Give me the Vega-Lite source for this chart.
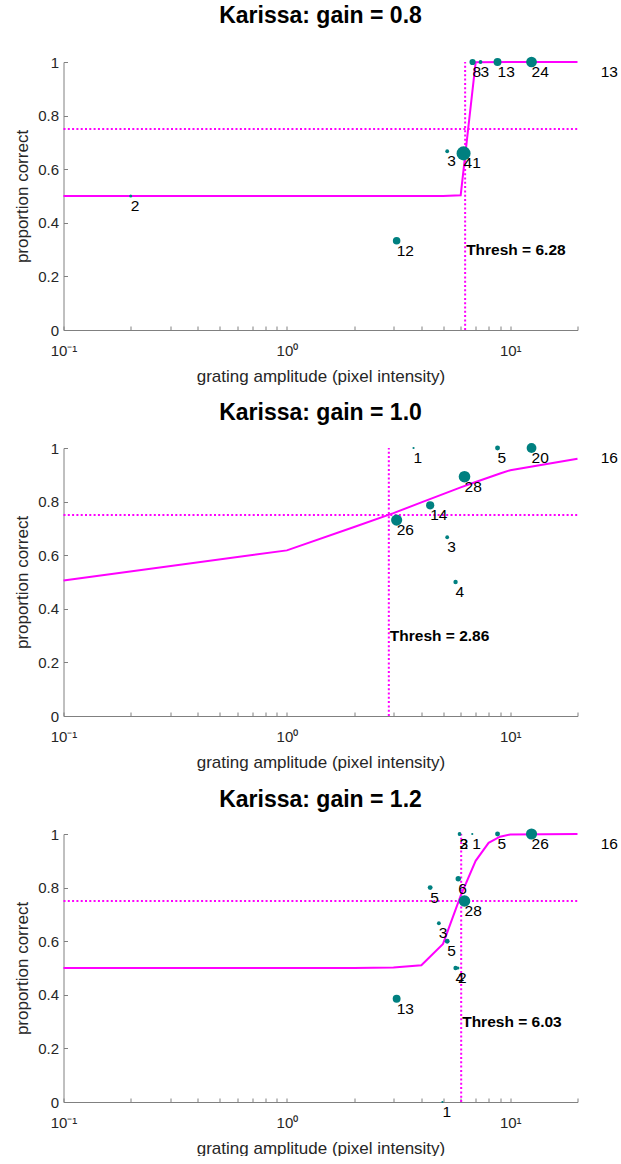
{
  "$schema": "https://vega.github.io/schema/vega-lite/v6.json",
  "autosize": {"type": "pad"},
  "padding": {"left": 13.5, "top": 5, "right": 0, "bottom": 0},
  "background": "white",
  "config": {
    "view": {"stroke": null},
    "font": "Liberation Sans",
    "axis": {
      "grid": false,
      "domainColor": "#808080",
      "tickColor": "#808080",
      "labelColor": "#262626",
      "titleColor": "#262626",
      "labelFont": "Liberation Sans",
      "titleFont": "Liberation Sans",
      "labelFontSize": 15,
      "titleFontSize": 17,
      "titleFontWeight": "normal",
      "tickSize": -4
    },
    "title": {"font": "Liberation Sans", "fontSize": 23, "fontWeight": "bold", "color": "#000000", "anchor": "middle", "baseline": "alphabetic"}
  },
  "datasets": {
    "pts": [
      {"g": "0.8", "x": 0.2, "y": 0.5, "n": 2},
      {"g": "0.8", "x": 3.1, "y": 0.333, "n": 12},
      {"g": "0.8", "x": 5.22, "y": 0.667, "n": 3},
      {"g": "0.8", "x": 6.18, "y": 0.659, "n": 41},
      {"g": "0.8", "x": 6.78, "y": 1, "n": 8},
      {"g": "0.8", "x": 7.36, "y": 1, "n": 3},
      {"g": "0.8", "x": 8.77, "y": 1, "n": 13},
      {"g": "0.8", "x": 12.45, "y": 1, "n": 24},
      {"g": "0.8", "x": 25.4, "y": 1, "n": 13},
      {"g": "1.0", "x": 3.69, "y": 1, "n": 1},
      {"g": "1.0", "x": 8.77, "y": 1, "n": 5},
      {"g": "1.0", "x": 12.45, "y": 1, "n": 20},
      {"g": "1.0", "x": 6.24, "y": 0.893, "n": 28},
      {"g": "1.0", "x": 4.38, "y": 0.786, "n": 14},
      {"g": "1.0", "x": 3.1, "y": 0.731, "n": 26},
      {"g": "1.0", "x": 5.22, "y": 0.667, "n": 3},
      {"g": "1.0", "x": 5.69, "y": 0.5, "n": 4},
      {"g": "1.0", "x": 25.4, "y": 1, "n": 16},
      {"g": "1.2", "x": 5.93, "y": 1, "n": 2},
      {"g": "1.2", "x": 5.93, "y": 1, "n": 3},
      {"g": "1.2", "x": 6.76, "y": 1, "n": 1},
      {"g": "1.2", "x": 8.77, "y": 1, "n": 5},
      {"g": "1.2", "x": 12.45, "y": 1, "n": 26},
      {"g": "1.2", "x": 25.4, "y": 1, "n": 16},
      {"g": "1.2", "x": 5.85, "y": 0.833, "n": 6},
      {"g": "1.2", "x": 4.38, "y": 0.8, "n": 5},
      {"g": "1.2", "x": 6.24, "y": 0.75, "n": 28},
      {"g": "1.2", "x": 4.79, "y": 0.667, "n": 3},
      {"g": "1.2", "x": 5.22, "y": 0.6, "n": 5},
      {"g": "1.2", "x": 5.69, "y": 0.5, "n": 4},
      {"g": "1.2", "x": 5.83, "y": 0.5, "n": 2},
      {"g": "1.2", "x": 3.1, "y": 0.385, "n": 13},
      {"g": "1.2", "x": 4.97, "y": 0, "n": 1}
    ],
    "fit": [
      {"g": "0.8", "x": 0.1, "y": 0.5},
      {"g": "0.8", "x": 1, "y": 0.5},
      {"g": "0.8", "x": 5, "y": 0.5},
      {"g": "0.8", "x": 6, "y": 0.503},
      {"g": "0.8", "x": 7, "y": 0.999},
      {"g": "0.8", "x": 10, "y": 1},
      {"g": "0.8", "x": 20, "y": 1},
      {"g": "1.0", "x": 0.1, "y": 0.506},
      {"g": "1.0", "x": 1, "y": 0.618},
      {"g": "1.0", "x": 2, "y": 0.705},
      {"g": "1.0", "x": 3, "y": 0.757},
      {"g": "1.0", "x": 4, "y": 0.797},
      {"g": "1.0", "x": 5, "y": 0.828},
      {"g": "1.0", "x": 6, "y": 0.853},
      {"g": "1.0", "x": 7, "y": 0.873},
      {"g": "1.0", "x": 8, "y": 0.89},
      {"g": "1.0", "x": 9, "y": 0.905},
      {"g": "1.0", "x": 10, "y": 0.917},
      {"g": "1.0", "x": 20, "y": 0.96},
      {"g": "1.2", "x": 0.1, "y": 0.5},
      {"g": "1.2", "x": 1, "y": 0.5},
      {"g": "1.2", "x": 2, "y": 0.5},
      {"g": "1.2", "x": 3, "y": 0.502},
      {"g": "1.2", "x": 4, "y": 0.51},
      {"g": "1.2", "x": 5, "y": 0.59},
      {"g": "1.2", "x": 6, "y": 0.77},
      {"g": "1.2", "x": 7, "y": 0.9},
      {"g": "1.2", "x": 8, "y": 0.967},
      {"g": "1.2", "x": 9, "y": 0.99},
      {"g": "1.2", "x": 10, "y": 0.998},
      {"g": "1.2", "x": 20, "y": 1}
    ],
    "ref": [
      {"g": "0.8", "t": 6.28, "h": 0.75, "x0": 0.1, "x1": 20, "y0": 0, "y1": 1, "ty": 0.3, "label": "Thresh = 6.28"},
      {"g": "1.0", "t": 2.86, "h": 0.75, "x0": 0.1, "x1": 20, "y0": 0, "y1": 1, "ty": 0.3, "label": "Thresh = 2.86"},
      {"g": "1.2", "t": 6.03, "h": 0.75, "x0": 0.1, "x1": 20, "y0": 0, "y1": 1, "ty": 0.3, "label": "Thresh = 6.03"}
    ]
  },
  "vconcat": [
    {
      "title": {"text": "Karissa: gain = 0.8", "offset": 27},
      "width": 514, "height": 268,
      "layer": [
        {"data": {"name": "ref"}, "transform": [{"filter": "datum.g == '0.8'"}],
         "mark": {"type": "rule", "color": "#ff00ff", "strokeWidth": 2, "strokeDash": [2, 2.3]},
         "encoding": {
           "x": {"field": "x0", "type": "quantitative", "scale": {"type": "log", "domain": [0.1, 20], "nice": false},
                 "axis": {"title": "grating amplitude (pixel intensity)", "values": [0.1,0.2,0.3,0.4,0.5,0.6,0.7,0.8,0.9,1,2,3,4,5,6,7,8,9,10,20], "labelExpr": "datum.value == 0.1 ? '10⁻¹' : datum.value == 1 ? '10⁰' : datum.value == 10 ? '10¹' : ''", "labelPadding": 17, "titlePadding": 10, "labelFlush": false, "labelOverlap": false}},
           "x2": {"field": "x1"},
           "y": {"field": "h", "type": "quantitative", "scale": {"domain": [0, 1], "nice": false},
                 "axis": {"title": "proportion correct", "values": [0,0.2,0.4,0.6,0.8,1], "format": "~g", "labelPadding": 9, "titlePadding": 6}}
         }},
        {"data": {"name": "ref"}, "transform": [{"filter": "datum.g == '0.8'"}],
         "mark": {"type": "rule", "color": "#ff00ff", "strokeWidth": 2, "strokeDash": [2, 2.3]},
         "encoding": {"x": {"field": "t", "type": "quantitative"}, "y": {"field": "y0", "type": "quantitative"}, "y2": {"field": "y1"}}},
        {"data": {"name": "fit"}, "transform": [{"filter": "datum.g == '0.8'"}],
         "mark": {"type": "line", "color": "#ff00ff", "strokeWidth": 2},
         "encoding": {"x": {"field": "x", "type": "quantitative"}, "y": {"field": "y", "type": "quantitative"}}},
        {"data": {"name": "pts"}, "transform": [{"filter": "datum.g == '0.8' && datum.x <= 20"}],
         "mark": {"type": "circle", "color": "#008080", "opacity": 1},
         "encoding": {"x": {"field": "x", "type": "quantitative"}, "y": {"field": "y", "type": "quantitative"},
                      "size": {"field": "n", "type": "quantitative", "scale": {"type": "linear", "domain": [0, 50], "range": [0, 240]}, "legend": null}}},
        {"data": {"name": "pts"}, "transform": [{"filter": "datum.g == '0.8'"}],
         "mark": {"type": "text", "align": "left", "baseline": "top", "dy": 3, "fontSize": 15.5, "color": "#000000"},
         "encoding": {"x": {"field": "x", "type": "quantitative"}, "y": {"field": "y", "type": "quantitative"}, "text": {"field": "n"}}},
        {"data": {"name": "ref"}, "transform": [{"filter": "datum.g == '0.8'"}],
         "mark": {"type": "text", "align": "left", "baseline": "middle", "dx": 1, "fontSize": 15.5, "fontWeight": "bold", "color": "#000000"},
         "encoding": {"x": {"field": "t", "type": "quantitative"}, "y": {"field": "ty", "type": "quantitative"}, "text": {"field": "label"}}}
      ]
    },
    {
      "title": {"text": "Karissa: gain = 1.0", "offset": 16},
      "width": 514, "height": 268,
      "layer": [
        {"data": {"name": "ref"}, "transform": [{"filter": "datum.g == '1.0'"}],
         "mark": {"type": "rule", "color": "#ff00ff", "strokeWidth": 2, "strokeDash": [2, 2.3]},
         "encoding": {
           "x": {"field": "x0", "type": "quantitative", "scale": {"type": "log", "domain": [0.1, 20], "nice": false},
                 "axis": {"title": "grating amplitude (pixel intensity)", "values": [0.1,0.2,0.3,0.4,0.5,0.6,0.7,0.8,0.9,1,2,3,4,5,6,7,8,9,10,20], "labelExpr": "datum.value == 0.1 ? '10⁻¹' : datum.value == 1 ? '10⁰' : datum.value == 10 ? '10¹' : ''", "labelPadding": 17, "titlePadding": 10, "labelFlush": false, "labelOverlap": false}},
           "x2": {"field": "x1"},
           "y": {"field": "h", "type": "quantitative", "scale": {"domain": [0, 1], "nice": false},
                 "axis": {"title": "proportion correct", "values": [0,0.2,0.4,0.6,0.8,1], "format": "~g", "labelPadding": 9, "titlePadding": 6}}
         }},
        {"data": {"name": "ref"}, "transform": [{"filter": "datum.g == '1.0'"}],
         "mark": {"type": "rule", "color": "#ff00ff", "strokeWidth": 2, "strokeDash": [2, 2.3]},
         "encoding": {"x": {"field": "t", "type": "quantitative"}, "y": {"field": "y0", "type": "quantitative"}, "y2": {"field": "y1"}}},
        {"data": {"name": "fit"}, "transform": [{"filter": "datum.g == '1.0'"}],
         "mark": {"type": "line", "color": "#ff00ff", "strokeWidth": 2},
         "encoding": {"x": {"field": "x", "type": "quantitative"}, "y": {"field": "y", "type": "quantitative"}}},
        {"data": {"name": "pts"}, "transform": [{"filter": "datum.g == '1.0' && datum.x <= 20"}],
         "mark": {"type": "circle", "color": "#008080", "opacity": 1},
         "encoding": {"x": {"field": "x", "type": "quantitative"}, "y": {"field": "y", "type": "quantitative"},
                      "size": {"field": "n", "type": "quantitative", "scale": {"type": "linear", "domain": [0, 50], "range": [0, 240]}, "legend": null}}},
        {"data": {"name": "pts"}, "transform": [{"filter": "datum.g == '1.0'"}],
         "mark": {"type": "text", "align": "left", "baseline": "top", "dy": 3, "fontSize": 15.5, "color": "#000000"},
         "encoding": {"x": {"field": "x", "type": "quantitative"}, "y": {"field": "y", "type": "quantitative"}, "text": {"field": "n"}}},
        {"data": {"name": "ref"}, "transform": [{"filter": "datum.g == '1.0'"}],
         "mark": {"type": "text", "align": "left", "baseline": "middle", "dx": 1, "fontSize": 15.5, "fontWeight": "bold", "color": "#000000"},
         "encoding": {"x": {"field": "t", "type": "quantitative"}, "y": {"field": "ty", "type": "quantitative"}, "text": {"field": "label"}}}
      ]
    },
    {
      "title": {"text": "Karissa: gain = 1.2", "offset": 15},
      "width": 514, "height": 268,
      "layer": [
        {"data": {"name": "ref"}, "transform": [{"filter": "datum.g == '1.2'"}],
         "mark": {"type": "rule", "color": "#ff00ff", "strokeWidth": 2, "strokeDash": [2, 2.3]},
         "encoding": {
           "x": {"field": "x0", "type": "quantitative", "scale": {"type": "log", "domain": [0.1, 20], "nice": false},
                 "axis": {"title": "grating amplitude (pixel intensity)", "values": [0.1,0.2,0.3,0.4,0.5,0.6,0.7,0.8,0.9,1,2,3,4,5,6,7,8,9,10,20], "labelExpr": "datum.value == 0.1 ? '10⁻¹' : datum.value == 1 ? '10⁰' : datum.value == 10 ? '10¹' : ''", "labelPadding": 17, "titlePadding": 10, "labelFlush": false, "labelOverlap": false}},
           "x2": {"field": "x1"},
           "y": {"field": "h", "type": "quantitative", "scale": {"domain": [0, 1], "nice": false},
                 "axis": {"title": "proportion correct", "values": [0,0.2,0.4,0.6,0.8,1], "format": "~g", "labelPadding": 9, "titlePadding": 6}}
         }},
        {"data": {"name": "ref"}, "transform": [{"filter": "datum.g == '1.2'"}],
         "mark": {"type": "rule", "color": "#ff00ff", "strokeWidth": 2, "strokeDash": [2, 2.3]},
         "encoding": {"x": {"field": "t", "type": "quantitative"}, "y": {"field": "y0", "type": "quantitative"}, "y2": {"field": "y1"}}},
        {"data": {"name": "fit"}, "transform": [{"filter": "datum.g == '1.2'"}],
         "mark": {"type": "line", "color": "#ff00ff", "strokeWidth": 2},
         "encoding": {"x": {"field": "x", "type": "quantitative"}, "y": {"field": "y", "type": "quantitative"}}},
        {"data": {"name": "pts"}, "transform": [{"filter": "datum.g == '1.2' && datum.x <= 20"}],
         "mark": {"type": "circle", "color": "#008080", "opacity": 1},
         "encoding": {"x": {"field": "x", "type": "quantitative"}, "y": {"field": "y", "type": "quantitative"},
                      "size": {"field": "n", "type": "quantitative", "scale": {"type": "linear", "domain": [0, 50], "range": [0, 240]}, "legend": null}}},
        {"data": {"name": "pts"}, "transform": [{"filter": "datum.g == '1.2'"}],
         "mark": {"type": "text", "align": "left", "baseline": "top", "dy": 3, "fontSize": 15.5, "color": "#000000"},
         "encoding": {"x": {"field": "x", "type": "quantitative"}, "y": {"field": "y", "type": "quantitative"}, "text": {"field": "n"}}},
        {"data": {"name": "ref"}, "transform": [{"filter": "datum.g == '1.2'"}],
         "mark": {"type": "text", "align": "left", "baseline": "middle", "dx": 1, "fontSize": 15.5, "fontWeight": "bold", "color": "#000000"},
         "encoding": {"x": {"field": "t", "type": "quantitative"}, "y": {"field": "ty", "type": "quantitative"}, "text": {"field": "label"}}}
      ]
    }
  ],
  "spacing": 118,
  "bounds": "flush"
}
